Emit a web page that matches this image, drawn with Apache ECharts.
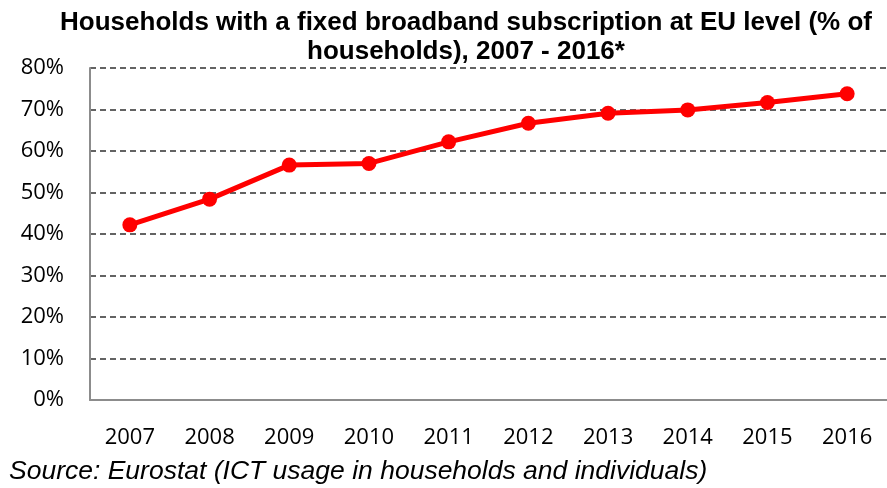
<!DOCTYPE html>
<html>
<head>
<meta charset="utf-8">
<script src="https://cdn.jsdelivr.net/npm/echarts@6/dist/echarts.min.js"></script>
<style>html,body{margin:0;padding:0;background:#fff}#c{width:887px;height:488px}</style>
</head>
<body>
<div id="c"></div>
<script>
const years = ['2007','2008','2009','2010','2011','2012','2013','2014','2015','2016'];
const households = [42.2, 48.4, 56.6, 57.0, 62.2, 66.7, 69.1, 69.9, 71.7, 73.8];
const titleText = 'Households with a fixed broadband subscription at EU level (% of\nhouseholds), 2007 - 2016*';
const sourceText = 'Source: Eurostat (ICT usage in households and individuals)';

const chart = echarts.init(document.getElementById('c'), null, {renderer: 'canvas'});
chart.setOption({
  animation: false,
  backgroundColor: '#fff',
  title: [{
    text: titleText,
    left: 466, top: 8, textAlign: 'center', padding: 0,
    textStyle: {fontFamily: 'Liberation Sans', fontWeight: 'bold', fontSize: 26, color: '#000', lineHeight: 29}
  }, {
    text: sourceText,
    left: 9, top: 457, padding: 0,
    textStyle: {fontFamily: 'Liberation Sans', fontStyle: 'italic', fontWeight: 'normal', fontSize: 26.5, color: '#000', lineHeight: 30}
  }],
  grid: {left: 90, right: -6, top: 68, bottom: 88, containLabel: false},
  xAxis: {
    type: 'category', data: years, boundaryGap: true,
    axisLine: {show: true, lineStyle: {color: '#8c8c8c', width: 2}},
    axisTick: {show: false},
    axisLabel: {fontFamily: 'Open Sans', fontSize: 22, color: '#000', margin: 27}
  },
  yAxis: {
    type: 'value', min: 0, max: 80, interval: 10,
    axisLine: {show: true, lineStyle: {color: '#8c8c8c', width: 2}},
    axisTick: {show: false},
    axisLabel: {formatter: '{value}%', fontFamily: 'Open Sans', fontSize: 22, color: '#000', margin: 26},
    splitLine: {show: true, lineStyle: {color: '#636363', width: 2, type: [6, 4]}}
  },
  series: [{
    type: 'line', data: households,
    symbol: 'circle', symbolSize: 15,
    lineStyle: {color: '#ff0000', width: 5},
    itemStyle: {color: '#ff0000'}
  }]
});
</script>
</body>
</html>
